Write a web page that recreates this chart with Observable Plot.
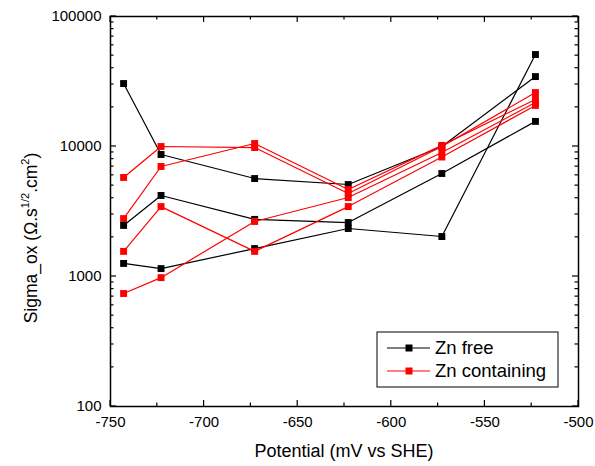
<!DOCTYPE html>
<html>
<head>
<meta charset="utf-8">
<script src="https://cdn.jsdelivr.net/npm/d3@7"></script>
<script src="https://cdn.jsdelivr.net/npm/@observablehq/plot@0.6"></script>
<style>
  html, body { margin: 0; padding: 0; background: #fff; }
  svg { font-family: "Liberation Sans", Arial, sans-serif; }
</style>
</head>
<body>
<div id="chart"></div>
<script>
// Potential (mV vs SHE)
const potentials = [-743, -723, -673, -623, -573, -523];

// Zn free (black)
const znFreeA = [30500, 8680, 5670, 5100, 10000, 34500];
const znFreeB = [2470, 4200, 2750, 2600, 6200, 15600];
const znFreeC = [1260, 1150, 1640, 2340, 2030, 51000];

// Zn containing (red)
const znContA = [5780, 10000, 9820, 4350, 10000, 26000];
const znContB = [2790, 7020, 10540, 4670, 10200, 23000];
const znContC = [1560, 3450, 1560, 3450, 8300, 20700];
const znContD = [740, 980, 2650, 4050, 9000, 21800];

const groups = ["Zn free", "Zn containing"];
const groupColors = ["#000000", "#ff0000"];

const xTicks = [-750, -700, -650, -600, -550, -500];
const xMinorTicks = [-725, -675, -625, -575, -525];
const yTicks = [100, 1000, 10000, 100000];

const seriesList = [
  {name: "free-A", group: "Zn free", values: znFreeA},
  {name: "free-B", group: "Zn free", values: znFreeB},
  {name: "free-C", group: "Zn free", values: znFreeC},
  {name: "cont-A", group: "Zn containing", values: znContA},
  {name: "cont-B", group: "Zn containing", values: znContB},
  {name: "cont-C", group: "Zn containing", values: znContC},
  {name: "cont-D", group: "Zn containing", values: znContD}
];
const data = seriesList.flatMap(s => s.values.map((v, i) => ({series: s.name, group: s.group, x: potentials[i], y: v})));

const yMinor = [];
for (let d = 100; d < 100000; d *= 10) for (let k = 2; k <= 9; k++) yMinor.push(d * k);

const W = 595, H = 466, mL = 110, mR = 17, mT = 16, mB = 60;
const pw = W - mL - mR, ph = H - mT - mB;
const majorLen = 6, minorLen = 3.5;

const plot = Plot.plot({
  width: W, height: H,
  marginLeft: mL, marginRight: mR, marginTop: mT, marginBottom: mB,
  style: {fontFamily: '"Liberation Sans", Arial, sans-serif', background: "#fff"},
  x: {domain: [-750, -500]},
  y: {type: "log", domain: [100, 100000]},
  color: {domain: groups, range: groupColors},
  marks: [
    Plot.axisX({ticks: xTicks, tickSize: 0, tickPadding: 10, fontSize: 15, label: null, tickFormat: d => String(d)}),
    Plot.axisY({ticks: yTicks, tickSize: 0, tickPadding: 9, fontSize: 15, label: null, tickFormat: d => String(d)}),
    Plot.frame({stroke: "#000", strokeWidth: 1.5}),
    Plot.line(data, {x: "x", y: "y", z: "series", stroke: "group", strokeWidth: 1.2, curve: "linear"}),
    Plot.dot(data, {x: "x", y: "y", symbol: "square", r: 3.9, fill: "group", stroke: null})
  ]
});

const svg = d3.select(plot);
const xs = plot.scale("x"), ys = plot.scale("y");
const frameL = mL, frameR = W - mR, frameT = mT, frameB = H - mB;

// inward ticks on all four sides, positioned through Plot's scales
const tg = svg.append("g").attr("stroke", "#000").attr("stroke-width", 1.2);
const addX = (vals, len) => vals.forEach(v => {
  const px = xs.apply(v);
  tg.append("line").attr("x1", px).attr("x2", px).attr("y1", frameB).attr("y2", frameB - len);
  tg.append("line").attr("x1", px).attr("x2", px).attr("y1", frameT).attr("y2", frameT + len);
});
const addY = (vals, len) => vals.forEach(v => {
  const py = ys.apply(v);
  tg.append("line").attr("y1", py).attr("y2", py).attr("x1", frameL).attr("x2", frameL + len);
  tg.append("line").attr("y1", py).attr("y2", py).attr("x1", frameR).attr("x2", frameR - len);
});
addX(xTicks, majorLen); addX(xMinorTicks, minorLen);
addY(yTicks, majorLen); addY(yMinor, minorLen);

// y-axis title with superscripts
const yTitle = svg.append("text")
  .attr("transform", "translate(37,238) rotate(-90)")
  .attr("text-anchor", "middle")
  .attr("font-size", 17.5)
  .attr("fill", "#000");
yTitle.append("tspan").text("Sigma_ox (Ω.s");
yTitle.append("tspan").attr("font-size", 11).attr("dy", -8).text("1/2");
yTitle.append("tspan").attr("dy", 8).text(".cm");
yTitle.append("tspan").attr("font-size", 11).attr("dy", -8).text("2");
yTitle.append("tspan").attr("dy", 8).text(")");

// x-axis title
svg.append("text")
  .attr("x", mL + pw / 2)
  .attr("y", 457)
  .attr("text-anchor", "middle")
  .attr("font-size", 18)
  .attr("fill", "#000")
  .text("Potential (mV vs SHE)");

// legend
const lg = svg.append("g").attr("transform", "translate(377,332)");
lg.append("rect").attr("width", 181).attr("height", 55).attr("fill", "#fff").attr("stroke", "#000").attr("stroke-width", 1);
groups.forEach((g, i) => {
  const cy = 16 + i * 23;
  lg.append("line").attr("x1", 10).attr("x2", 53).attr("y1", cy).attr("y2", cy).attr("stroke", groupColors[i]).attr("stroke-width", 1.2);
  lg.append("rect").attr("x", 28.5).attr("y", cy - 3.5).attr("width", 7).attr("height", 7).attr("fill", groupColors[i]);
  lg.append("text").attr("x", 58).attr("y", cy).attr("dy", "0.35em").attr("text-anchor", "start").attr("font-size", 18.5).attr("fill", "#000").text(g);
});

document.getElementById("chart").appendChild(plot);
</script>
</body>
</html>
